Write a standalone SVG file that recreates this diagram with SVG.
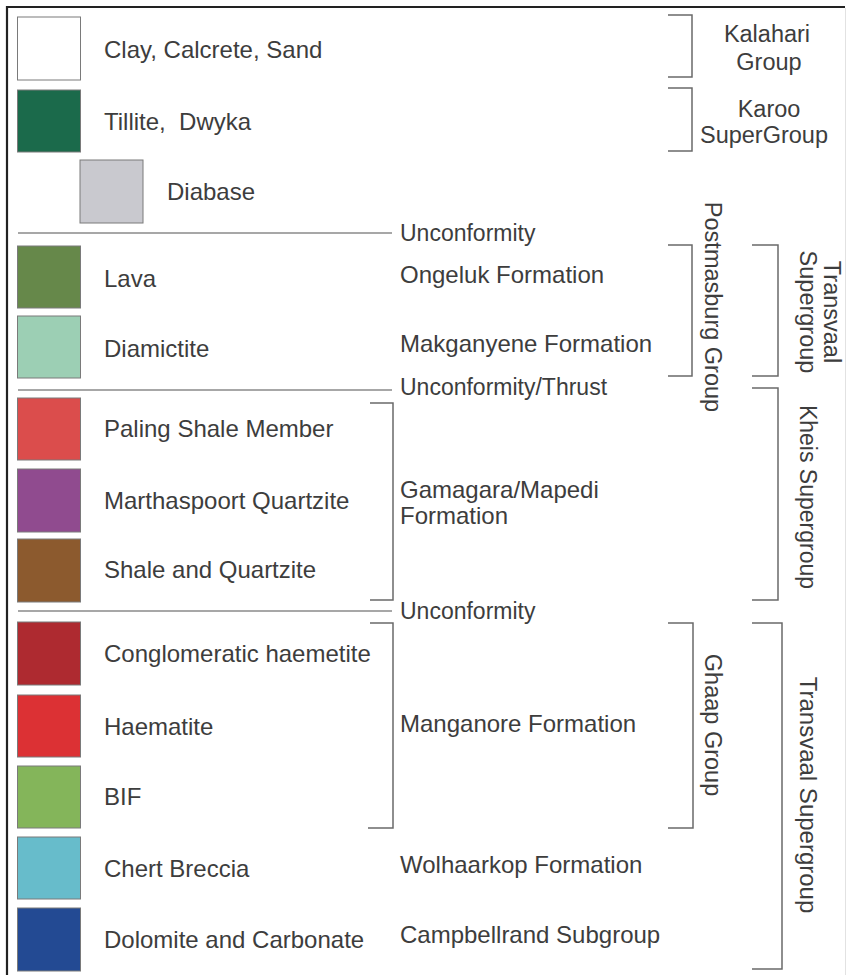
<svg xmlns="http://www.w3.org/2000/svg" width="847" height="975" viewBox="0 0 847 975">
<style>
.sw{stroke:#7a7a7a;stroke-width:1}
.t{font-family:"Liberation Sans",Arial,sans-serif;font-size:24px;fill:#3d3d3d}
.r{font-family:"Liberation Sans",Arial,sans-serif;font-size:23.5px;fill:#3d3d3d}
.u{font-family:"Liberation Sans",Arial,sans-serif;font-size:23px;fill:#3d3d3d}
.ln{stroke:#8a8a8a;stroke-width:1.6;fill:none}
.br{stroke:#6a6a6a;stroke-width:1.5;fill:none}
</style>
<rect x="0" y="0" width="847" height="975" fill="#ffffff"/>
<g id="frame">
<line x1="6" y1="7" x2="845" y2="7" stroke="#222" stroke-width="2.2"/>
<line x1="7" y1="6" x2="7" y2="975" stroke="#222" stroke-width="2.2"/>
<line x1="845.5" y1="8" x2="845.5" y2="975" stroke="#e2e2e2" stroke-width="1"/>
</g>
<g id="legend">
<g id="clay"><rect class="sw" x="17.5" y="17" width="63" height="63" fill="#ffffff"/><text class="t" x="104" y="58">Clay, Calcrete, Sand</text></g>
<g id="tillite"><rect class="sw" x="17.5" y="90" width="63" height="62" fill="#1b6a4b"/><text class="t" x="104" y="130" xml:space="preserve">Tillite,  Dwyka</text></g>
<g id="diabase"><rect class="sw" x="80" y="160" width="63" height="63" fill="#c9c9cf"/><text class="t" x="167" y="200">Diabase</text></g>
<g id="lava"><rect class="sw" x="17.5" y="246" width="63" height="62" fill="#66884a"/><text class="t" x="104" y="287">Lava</text></g>
<g id="diamictite"><rect class="sw" x="17.5" y="316" width="63" height="62" fill="#9ccfb4"/><text class="t" x="104" y="357">Diamictite</text></g>
<g id="paling"><rect class="sw" x="17.5" y="398" width="63" height="62" fill="#db4d4c"/><text class="t" x="104" y="437">Paling Shale Member</text></g>
<g id="marthaspoort"><rect class="sw" x="17.5" y="469" width="63" height="63" fill="#904b8f"/><text class="t" x="104" y="509">Marthaspoort Quartzite</text></g>
<g id="shale"><rect class="sw" x="17.5" y="539" width="63" height="63" fill="#8c5a2e"/><text class="t" x="104" y="578">Shale and Quartzite</text></g>
<g id="conglomeratic"><rect class="sw" x="17.5" y="622" width="63" height="63" fill="#ae2a30"/><text class="t" x="104" y="662">Conglomeratic haemetite</text></g>
<g id="haematite"><rect class="sw" x="17.5" y="695" width="63" height="62" fill="#dc3134"/><text class="t" x="104" y="735">Haematite</text></g>
<g id="bif"><rect class="sw" x="17.5" y="766" width="63" height="62" fill="#84b55a"/><text class="t" x="104" y="805">BIF</text></g>
<g id="chert"><rect class="sw" x="17.5" y="837" width="63" height="62" fill="#67bccb"/><text class="t" x="104" y="877">Chert Breccia</text></g>
<g id="dolomite"><rect class="sw" x="17.5" y="908" width="63" height="63" fill="#234a93"/><text class="t" x="104" y="948">Dolomite and Carbonate</text></g>
</g>
<g id="formations">
<text class="u" x="400" y="241">Unconformity</text>
<text class="t" x="400" y="283">Ongeluk Formation</text>
<text class="t" x="400" y="352">Makganyene Formation</text>
<text class="u" x="400" y="395">Unconformity/Thrust</text>
<text class="t" x="400" y="498">Gamagara/Mapedi</text>
<text class="t" x="400" y="524">Formation</text>
<text class="u" x="400" y="619">Unconformity</text>
<text class="t" x="400" y="732">Manganore Formation</text>
<text class="t" x="400" y="873">Wolhaarkop Formation</text>
<text class="t" x="400" y="943">Campbellrand Subgroup</text>
</g>
<g id="groups">
<text class="r" x="767" y="42" text-anchor="middle">Kalahari</text>
<text class="r" x="769" y="70" text-anchor="middle">Group</text>
<text class="r" x="769" y="117" text-anchor="middle">Karoo</text>
<text class="r" x="764" y="143" text-anchor="middle">SuperGroup</text>
<text class="r" transform="translate(705,307) rotate(90)" text-anchor="middle">Postmasburg Group</text>
<text class="r" transform="translate(824,312) rotate(90)" text-anchor="middle">Transvaal</text>
<text class="r" transform="translate(800,312) rotate(90)" text-anchor="middle">Supergroup</text>
<text class="u" transform="translate(800,497) rotate(90)" text-anchor="middle">Kheis Supergroup</text>
<text class="r" transform="translate(705,725) rotate(90)" text-anchor="middle">Ghaap Group</text>
<text class="t" transform="translate(800,795) rotate(90)" text-anchor="middle">Transvaal Supergroup</text>
</g>
<g id="connectors">
<line class="ln" x1="18" y1="233" x2="392" y2="233"/>
<line class="ln" x1="18" y1="390" x2="392" y2="390"/>
<line class="ln" x1="18" y1="611" x2="392" y2="611"/>
<path class="br" d="M370 403 H393 V600 H370"/>
<path class="br" d="M370 623 H393 V828 H368"/>
<path class="br" d="M668 15 H692 V77 H668"/>
<path class="br" d="M668 88 H692 V151 H668"/>
<path class="br" d="M668 245 H692 V376 H668"/>
<path class="br" d="M752 245 H778 V376 H752"/>
<path class="br" d="M752 388 H778 V600 H752"/>
<path class="br" d="M668 623 H693 V828 H668"/>
<path class="br" d="M752 623 H782 V969 H752"/>
</g>
</svg>
